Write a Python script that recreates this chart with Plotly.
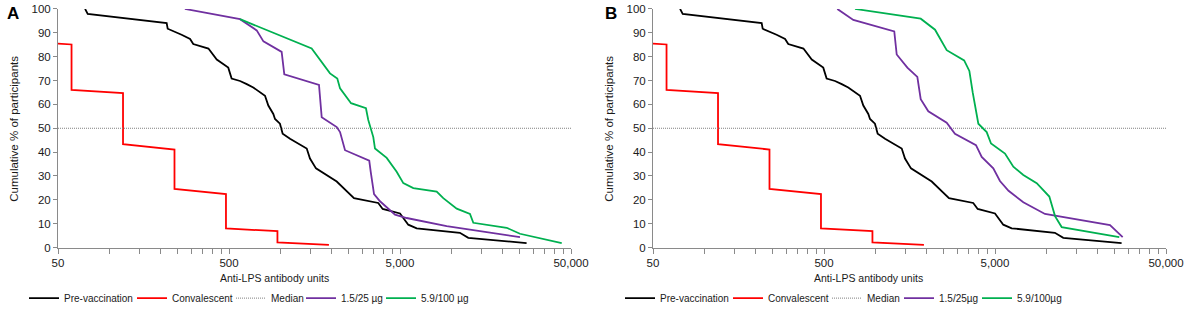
import math
import plotly.graph_objects as go

# ---------------- data ----------------
# Pre-vaccination (same in both panels)
pre_units = [72, 74.6, 216, 219, 264, 296, 309, 379, 424, 495, 518, 580, 635, 693, 812, 849,
             908, 929, 993, 1030, 1137, 1424, 1488, 1613, 2133, 2440, 2690, 3730, 3960, 5000,
             5590, 6260, 11200, 12540, 27500]
pre_pct = [100, 97.9, 94.1, 91.7, 89.2, 87.4, 85.3, 83.4, 78.8, 75.4, 70.8, 69.8, 68.5, 67.1, 63.6, 59.5,
           56.0, 53.9, 51.9, 47.7, 45.6, 41.5, 37.3, 33.2, 27.7, 23.5, 20.7, 18.7, 16.2, 14.3,
           9.6, 8.1, 6.2, 4.1, 1.9]

# Convalescent (same in both panels)
conv_units = [50, 60, 60, 120, 120, 240, 240, 480, 480, 960, 960, 1920]
conv_pct = [85.5, 85.1, 66.1, 64.7, 43.3, 41.1, 24.6, 22.4, 8.0, 6.9, 2.2, 1.1]

# Median reference
median_units = [50, 50000]
median_pct = [50, 50]

# Panel A
a_low_units = [276, 580, 726, 795, 1016, 1053, 1680, 1742, 2133, 2230, 2385, 3305, 3370, 3525, 3820,
               4675, 5470, 9375, 25150]
a_low_pct = [100, 95.7, 91.0, 86.4, 82.0, 72.6, 68.2, 54.6, 50.5, 48.4, 40.8, 36.4, 31.8, 22.4, 19.4,
             13.8, 12.4, 9.0, 4.4]
a_high_units = [580, 1522, 1948, 2149, 2230, 2586, 3161, 3260, 3490, 3570, 4180, 4780, 5227, 5980,
                8195, 8955, 10730, 12830, 13420, 21030, 25150, 44130]
a_high_pct = [95.7, 83.4, 73.0, 70.8, 66.7, 60.5, 58.4, 53.5, 46.3, 41.5, 37.6, 31.8, 27.0, 24.9,
              23.5, 20.7, 16.3, 14.1, 10.4, 8.3, 5.8, 1.9]

# Panel B
b_low_units = [598, 742, 1288, 1331, 1536, 1757, 1839, 2037, 2609, 2916, 3870, 4180, 4886, 5346,
               6000, 7320, 9800, 23530, 27900]
b_low_pct = [100, 95.4, 90.6, 80.9, 75.4, 71.5, 62.2, 57.1, 52.3, 47.7, 42.9, 38.0, 33.2, 27.9,
             23.8, 19.0, 14.1, 9.4, 4.4]
b_high_units = [759, 1839, 2230, 2609, 3300, 3540, 3703, 3995, 4470, 4740, 5720, 6400, 7320, 8770,
                10390, 11220, 12270, 26650]
b_high_pct = [100, 95.9, 91.3, 82.7, 78.4, 74.0, 65.0, 51.9, 48.4, 43.6, 39.4, 33.9, 30.4, 27.0,
              21.4, 13.2, 8.6, 4.4]

x_tick_vals = [50, 500, 5000, 50000]
x_tick_text = ["50", "500", "5,000", "50,000"]
x_minor_vals = [m * 10 ** e for e in (1, 2, 3) for m in (10, 15, 20, 25, 30, 35, 40, 45)]
y_tick_vals = list(range(0, 101, 10))

labels_a = ["Pre-vaccination", "Convalescent", "Median", "1.5/25 µg", "5.9/100 µg"]
labels_b = ["Pre-vaccination", "Convalescent", "Median", "1.5/25µg", "5.9/100µg"]

# ---------------- styling ----------------
W, H = 1192, 313


def px_x(p):
    return p / W


def px_y(p):
    return (H - p) / H


FONT = "Liberation Sans, Arial, sans-serif"
TXT = "#1a1a1a"
AXC = "#8a8a8a"
colors = ["#000000", "#ff0000", "#808080", "#7030a0", "#00b050"]
widths = [1.8, 1.8, 1.0, 1.8, 1.8]
dashes = ["solid", "solid", "1px,1px", "solid", "solid"]

fig = go.Figure()

panels = [
    ("x", "y", labels_a, [(pre_units, pre_pct), (conv_units, conv_pct), (median_units, median_pct),
                          (a_low_units, a_low_pct), (a_high_units, a_high_pct)], 1),
    ("x2", "y2", labels_b, [(pre_units, pre_pct), (conv_units, conv_pct), (median_units, median_pct),
                            (b_low_units, b_low_pct), (b_high_units, b_high_pct)], 6),
]

# legend text start positions (px in the window)
leg_text_x = [64, 172, 271, 341, 421, 660, 768, 867, 939, 1017]

for xa, ya, labels, series, leg0 in panels:
    for i, (xs, ys) in enumerate(series):
        k = leg0 + i
        lname = "legend" if k == 1 else f"legend{k}"
        fig.add_trace(go.Scatter(
            x=xs, y=ys, mode="lines", name=labels[i], xaxis=xa, yaxis=ya,
            line=dict(color=colors[i], width=widths[i], dash=dashes[i]),
            legend=lname, hoverinfo="skip",
        ))
        fig.update_layout(**{lname: dict(
            x=px_x(leg_text_x[k - 1] - 40), xanchor="left",
            y=px_y(301), yanchor="middle",
            orientation="h", bgcolor="rgba(0,0,0,0)", borderwidth=0,
            font=dict(family=FONT, size=10, color=TXT),
            tracegroupgap=0, itemclick=False, itemdoubleclick=False,
        )})

y0 = px_y(250)
y1 = px_y(9)
xdomA = [px_x(58), px_x(571)]
xdomB = [px_x(653), px_x(1166)]

xaxis_common = dict(
    type="log", range=[math.log10(50), math.log10(50000)],
    tickmode="array", tickvals=x_tick_vals, ticktext=x_tick_text,
    ticks="outside", ticklen=5, tickwidth=1, tickcolor=AXC,
    minor=dict(tickmode="array", tickvals=x_minor_vals, ticks="outside", ticklen=5,
               tickwidth=1, tickcolor=AXC, showgrid=False),
    showline=True, linecolor=AXC, linewidth=1, showgrid=False, zeroline=False,
    tickfont=dict(family=FONT, size=11.5, color=TXT), automargin=False, fixedrange=True,
    ticklabeloverflow="allow",
)
yaxis_common = dict(
    range=[0, 100], tickmode="array", tickvals=y_tick_vals,
    ticks="outside", ticklen=4, tickwidth=1, tickcolor=AXC,
    showline=True, linecolor=AXC, linewidth=1, showgrid=False, zeroline=False,
    tickfont=dict(family=FONT, size=11.5, color=TXT), automargin=False, fixedrange=True,
    domain=[y0, y1], ticklabeloverflow="allow",
)

fig.update_layout(
    width=W, height=H,
    margin=dict(l=0, r=0, t=0, b=0),
    paper_bgcolor="white", plot_bgcolor="white",
    showlegend=True,
    xaxis=dict(xaxis_common, domain=xdomA, anchor="y"),
    yaxis=dict(yaxis_common, anchor="x"),
    xaxis2=dict(xaxis_common, domain=xdomB, anchor="y2"),
    yaxis2=dict(yaxis_common, anchor="x2"),
    font=dict(family=FONT, color=TXT),
)

annotations = []
for px_label, px_ytitle, px_xtitle, letter in [(13, 14, 274, "A"), (611, 609, 868, "B")]:
    annotations.append(dict(text=f"<b>{letter}</b>", x=px_x(px_label), y=px_y(14),
                            xref="paper", yref="paper", showarrow=False,
                            xanchor="center", yanchor="middle",
                            font=dict(family=FONT, size=17, color="#000000")))
    annotations.append(dict(text="Cumulative % of participants", x=px_x(px_ytitle), y=px_y(130),
                            xref="paper", yref="paper", showarrow=False, textangle=-90,
                            xanchor="center", yanchor="middle",
                            font=dict(family=FONT, size=11.5, color=TXT)))
    annotations.append(dict(text="Anti-LPS antibody units", x=px_x(px_xtitle), y=px_y(281),
                            xref="paper", yref="paper", showarrow=False,
                            xanchor="center", yanchor="middle",
                            font=dict(family=FONT, size=10.5, color=TXT)))
fig.update_layout(annotations=annotations)

# the page body has a default 8px margin; remove it so the figure fills the window
fig.write_html("out.html", config={"displayModeBar": False},
               post_script="document.body.style.margin='0';document.body.style.overflow='hidden';")
